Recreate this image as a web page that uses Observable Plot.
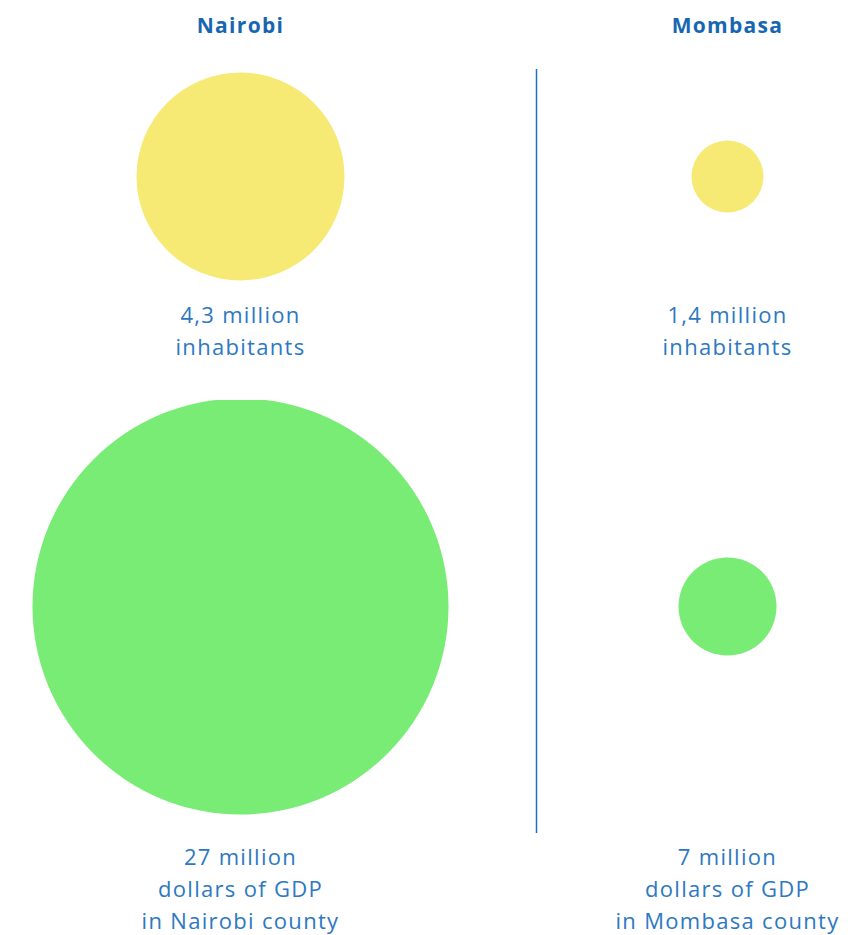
<!DOCTYPE html>
<html>
<head>
<meta charset="utf-8">
<script src="https://cdn.jsdelivr.net/npm/d3@7"></script>
<script src="https://cdn.jsdelivr.net/npm/@observablehq/plot@0.6"></script>
<style>
  html, body { margin: 0; padding: 0; background: #fff; }
  #chart svg { display: block; }
</style>
</head>
<body>
<div id="chart"></div>
<script>
// Data
const cities = ["Nairobi", "Mombasa"];
const inhabitants = [4.3, 1.4];          // million inhabitants
const gdp = [27, 7];                      // million dollars of GDP
const inhabitantLabels = ["4,3 million\ninhabitants", "1,4 million\ninhabitants"];
const gdpLabels = ["27 million\ndollars of GDP\nin Nairobi county", "7 million\ndollars of GDP\nin Mombasa county"];

const popData = cities.map((c, i) => ({city: c, metric: "inhabitants", value: inhabitants[i], label: inhabitantLabels[i]}));
const gdpData = cities.map((c, i) => ({city: c, metric: "GDP", value: gdp[i], label: gdpLabels[i]}));

const titleColor = "#1766b2";
const textColor = "#2d78c2";
const lineColor = "#1f6fc2";
const font = {fontFamily: "'Open Sans', sans-serif", letterSpacing: "1.3px", background: "#fff"};

const xScale = {type: "point", domain: cities, range: [240, 727], padding: 0, axis: null};

const topPlot = Plot.plot({
  width: 867, height: 400,
  marginTop: 69, marginBottom: 0, marginLeft: 0, marginRight: 0,
  style: font,
  x: xScale,
  y: {type: "point", domain: ["inhabitants"], range: [176, 176], axis: null},
  r: {type: "linear", domain: [1.4, 4.3], range: [36, 104]},
  marks: [
    Plot.ruleX(["Mombasa"], {x: d => d, dx: -191, stroke: lineColor, strokeWidth: 1.5}),
    Plot.text(cities, {x: d => d, text: d => d, frameAnchor: "top", dy: -51, fontSize: 21, fontWeight: 700, fill: titleColor}),
    Plot.dot(popData, {x: "city", y: "metric", r: "value", fill: "#f6ea74", stroke: null}),
    Plot.text(popData, {x: "city", y: "metric", text: "label", dy: 152, fontSize: 22, lineHeight: 1.45, fill: textColor})
  ]
});

const bottomPlot = Plot.plot({
  width: 867, height: 535,
  marginTop: 0, marginBottom: 102, marginLeft: 0, marginRight: 0,
  style: font,
  x: xScale,
  y: {type: "point", domain: ["GDP"], range: [206, 206], axis: null},
  r: {type: "linear", domain: [7, 27], range: [49, 208]},
  marks: [
    Plot.ruleX(["Mombasa"], {x: d => d, dx: -191, stroke: lineColor, strokeWidth: 1.5}),
    Plot.dot(gdpData, {x: "city", y: "metric", r: "value", fill: "#78ec74", stroke: null}),
    Plot.text(gdpData, {x: "city", y: "metric", text: "label", dy: 280, fontSize: 22, lineHeight: 1.45, fill: textColor})
  ]
});

const chart = document.getElementById("chart");
chart.appendChild(topPlot);
chart.appendChild(bottomPlot);
</script>
</body>
</html>
